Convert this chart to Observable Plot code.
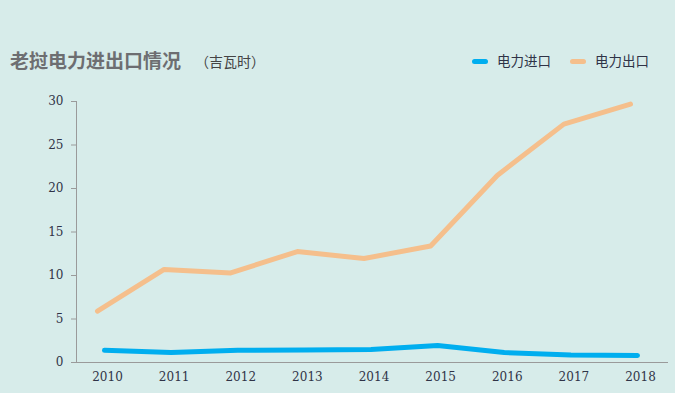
<!DOCTYPE html>
<html><head><meta charset="utf-8">
<script src="https://cdn.jsdelivr.net/npm/d3@7"></script>
<script src="https://cdn.jsdelivr.net/npm/@observablehq/plot@0.6"></script>
<style>
html,body{margin:0;padding:0;background:#d7ecea;}
#wrap{position:relative;width:675px;height:393px;background:#d7ecea;overflow:hidden;font-family:"Noto Sans CJK SC",sans-serif;}
#head{position:relative;height:85px;}
#title{position:absolute;left:10px;top:50px;line-height:20px;font-size:19px;font-weight:bold;color:#6d6e71;white-space:nowrap;}
#title span{font-size:14px;font-weight:normal;color:#444;margin-left:14px;vertical-align:1px;}
.leg{position:absolute;top:51px;line-height:18px;font-size:13.5px;color:#2f3347;white-space:nowrap;}
.sw{display:inline-block;width:16px;height:5px;border-radius:3px;vertical-align:middle;margin-right:9px;position:relative;top:-1px;}
</style></head>
<body>
<div id="wrap">
  <div id="head">
    <div id="title">老挝电力进出口情况<span>（吉瓦时）</span></div>
    <div class="leg" style="left:472px"><span class="sw" style="background:#00aeef"></span>电力进口</div>
    <div class="leg" style="left:570px"><span class="sw" style="background:#f5bf8c"></span>电力出口</div>
  </div>
  <div id="chart"></div>
</div>
<script>
const years = [2010, 2011, 2012, 2013, 2014, 2015, 2016, 2017, 2018];
const importValues = [1.4, 1.15, 1.4, 1.45, 1.5, 1.95, 1.15, 0.85, 0.8];
const exportValues = [5.9, 10.7, 10.3, 12.75, 11.95, 13.4, 21.5, 27.4, 29.7];
const yTicks = [0, 5, 10, 15, 20, 25, 30];

const imp = years.map((y, i) => ({year: y, value: importValues[i]}));
const exp = years.map((y, i) => ({year: y, value: exportValues[i]}));

const chart = Plot.plot({
  width: 675,
  height: 308,
  marginTop: 16,
  marginBottom: 31,
  marginLeft: 76,
  marginRight: 7,
  style: {background: "transparent", fontFamily: "'DejaVu Serif', serif", fontSize: "12px", color: "#2f3347"},
  x: {type: "linear", domain: [2010, 2018], insetLeft: 31, insetRight: 28},
  y: {domain: [0, 30]},
  marks: [
    Plot.axisY({ticks: yTicks, tickSize: 5, tickPadding: 8, tickFormat: d => String(d), label: null, stroke: "#9a9a9a"}),
    Plot.axisX({ticks: years, tickSize: 0, tickPadding: 10, tickFormat: d => String(d), label: null}),
    Plot.frame({anchor: "left", stroke: "#9a9a9a"}),
    Plot.ruleY([0], {stroke: "#9a9a9a"}),
    Plot.line(exp, {x: "year", y: "value", stroke: "#f5bf8c", strokeWidth: 5, dx: -10}),
    Plot.line(imp, {x: "year", y: "value", stroke: "#00aeef", strokeWidth: 5, dx: -3})
  ]
});
document.getElementById("chart").appendChild(chart);
</script>
</body></html>
